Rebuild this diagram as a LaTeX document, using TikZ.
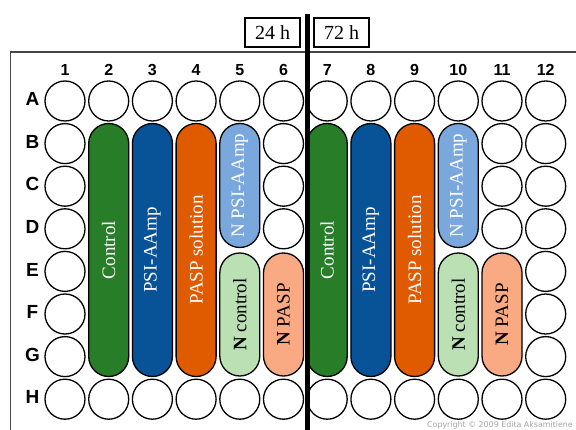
\documentclass[tikz,border=0pt]{standalone}
\usepackage{fontspec}
\setmainfont{Liberation Serif}
\newfontfamily\labelfont{Liberation Sans}
\newfontfamily\notefont{DejaVu Sans}
\definecolor{ctrlgreen}{RGB}{40,125,40}
\definecolor{psiblue}{RGB}{8,82,152}
\definecolor{paspor}{RGB}{224,90,0}
\definecolor{npsiblue}{RGB}{122,167,220}
\definecolor{nctrlgreen}{RGB}{186,224,180}
\definecolor{npaspsalmon}{RGB}{250,170,130}
\definecolor{framegray}{RGB}{70,70,70}
\tikzset{
  x=1pt, y=-1pt,
  well/.style={circle, draw=black, line width=1.3pt, fill=white,
    minimum size=40pt, inner sep=0pt},
  pill/.style={rectangle, rounded corners=20pt, draw=black, line width=1.3pt,
    minimum height=40pt, inner sep=0pt, rotate=90,
    font=\fontsize{19}{19}\selectfont},
  fullpill/.style={pill, minimum width=253pt},
  toppill/.style={pill, minimum width=124pt},
  lowpill/.style={pill, minimum width=123pt},
  rowlab/.style={anchor=base, font=\labelfont\bfseries\fontsize{19}{19}\selectfont, inner sep=0pt},
  collab/.style={anchor=base, font=\labelfont\bfseries\fontsize{16}{16}\selectfont, inner sep=0pt},
  timebox/.style={draw=black, line width=1.5pt, minimum width=55pt,
    minimum height=29pt, inner sep=0pt, font=\fontsize{20}{20}\selectfont},
}
\begin{document}
\begin{tikzpicture}
\path[use as bounding box, clip] (0,0) rectangle (576,430);
\fill[white] (0,0) rectangle (576,430);

% plate outline (runs off the right and bottom edges)
\draw[framegray, line width=1.5pt] (600,52) -- (10.5,52) -- (10.5,450);

% column numbers and row letters (placed on their baselines)
\foreach \c in {1,...,12}
  \node[collab] (col\c) at ({65+43.7*(\c-1)},75.2) {\c};
\foreach \r/\n in {A/1,B/2,C/3,D/4,E/5,F/6,G/7,H/8}
  \node[rowlab] (row\r) at (32.5,{105.8+42.6*(\n-1)}) {\r};

% empty wells
\foreach \r/\n in {A/1,H/8}
  \foreach \c in {1,...,12}
    \node[well] (w\r\c) at ({65+43.7*(\c-1)},{101+42.6*(\n-1)}) {};
\foreach \r/\n in {B/2,C/3,D/4,E/5,F/6,G/7}
  \foreach \c in {1,12}
    \node[well] (w\r\c) at ({65+43.7*(\c-1)},{101+42.6*(\n-1)}) {};
\foreach \r/\n in {B/2,C/3,D/4}
  \foreach \c in {6,11}
    \node[well] (w\r\c) at ({65+43.7*(\c-1)},{101+42.6*(\n-1)}) {};

% treatment strips, 24 h half (columns 2-6) and 72 h half (columns 7-11)
\foreach \h/\o in {a/0,b/5}{
  \node[fullpill, fill=ctrlgreen, text=white] (ctrl\h) at ({65+43.7*(1+\o)},250) {Control};
  \node[fullpill, fill=psiblue, text=white] (psi\h) at ({65+43.7*(2+\o)},250) {PSI-AAmp};
  \node[fullpill, fill=paspor, text=white] (pasp\h) at ({65+43.7*(3+\o)},250) {PASP solution};
  \node[toppill, fill=npsiblue, text=white] (npsi\h) at ({65+43.7*(4+\o)},185.5) {N PSI-AAmp};
  \node[lowpill, fill=nctrlgreen, text=black] (nctrl\h) at ({65+43.7*(4+\o)},314.5) {\textbf{N} control};
  \node[lowpill, fill=npaspsalmon, text=black] (npasp\h) at ({65+43.7*(5+\o)},314.5) {\textbf{N} PASP};
}

% time labels and the dividing bar
\node[timebox] (t24) at (272.5,32.5) {24 h};
\node[timebox] (t72) at (341.5,32.5) {72 h};
\coordinate (divtop) at (307,14);
\coordinate (divbot) at (307,440);
\draw[line width=5pt] (divtop) -- (divbot);

% credit line
\node[anchor=base east, inner sep=0pt, text=black!35,
  font=\notefont\fontsize{7.9}{7.9}\selectfont] (credit) at (573,427.8)
  {Copyright © 2009 Edita Aksamitiene};
\end{tikzpicture}
\end{document}
